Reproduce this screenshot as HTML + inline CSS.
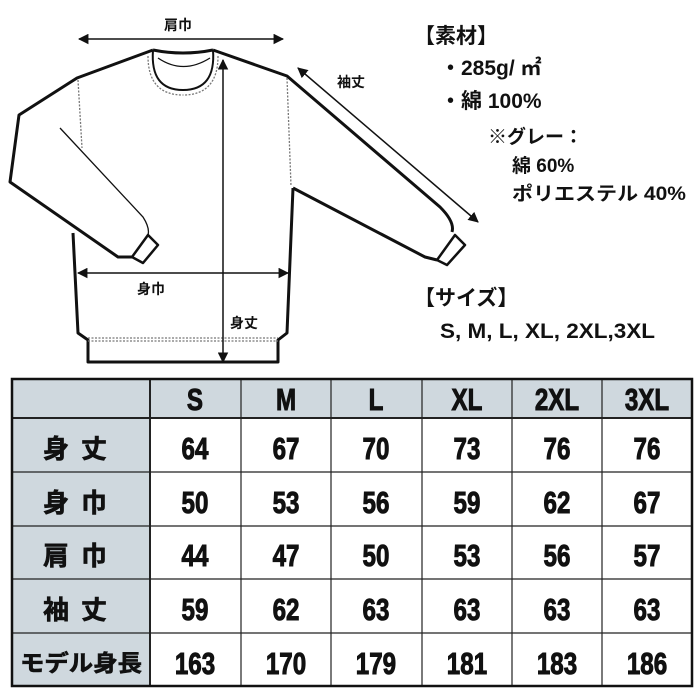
<!DOCTYPE html>
<html><head><meta charset="utf-8"><style>
html,body{margin:0;padding:0;background:#fff;width:700px;height:700px;overflow:hidden}
svg{position:absolute;left:0;top:0}
</style></head><body>
<svg width="700" height="700" viewBox="0 0 700 700" xmlns="http://www.w3.org/2000/svg" font-family="'Liberation Sans','Noto Sans CJK JP',sans-serif">
<defs>
<marker id="a" viewBox="0 0 10 10" refX="9" refY="5" markerWidth="7" markerHeight="7" orient="auto-start-reverse"><path d="M0,0 L10,5 L0,10 z" fill="#111"/></marker>
</defs>
<g fill="none" stroke="#111" stroke-width="3" stroke-linejoin="round">
<path d="M153,50 L77,78 L19,115 L10,182 L118,257 L132,257"/>
<path d="M148,235 L158,245 L143,263 L132,257 Z" stroke-width="2.5"/>
<path d="M213,50 L287,76 L440,207 Q455,222 452,232"/>
<path d="M455,235 L465,245 L447,265 L437,260 Z" stroke-width="2.5"/>
<path d="M293,188 L425,257 L437,260"/>
<path d="M73,233 L78,333 L88,340 L88,362 L278,362 L278,340 L287,333 L293,188"/>
<path d="M153,50 Q183,56 213,50"/>
<path d="M153,50 Q150,90 183,90 Q216,90 213,50" stroke-width="2"/>
</g>
<g fill="none" stroke="#111" stroke-width="1.3">
<path d="M60,128 L143,217 Q150,228 148,235"/>
<path d="M158,58 Q183,75 210,58"/>
<path d="M148,56 Q148,95 183,95" stroke-dasharray="2,1.5" stroke="#777"/>
<path d="M218,56 Q218,95 183,95" stroke-dasharray="2,1.5" stroke="#777"/>
<path d="M78,80 L82,148" stroke="#777" stroke-dasharray="2,1.5"/>
<path d="M287,78 L291,186" stroke="#777" stroke-dasharray="2,1.5"/>
<path d="M88,338 L278,338 M88,341 L278,341" stroke="#777" stroke-dasharray="2,1.5"/>
</g>
<g stroke="#111" stroke-width="1.5" fill="none">
<line x1="79" y1="39" x2="283" y2="39" marker-start="url(#a)" marker-end="url(#a)"/>
<line x1="78" y1="273" x2="288" y2="273" marker-start="url(#a)" marker-end="url(#a)"/>
<line x1="223" y1="60" x2="223" y2="362" marker-start="url(#a)" marker-end="url(#a)"/>
<line x1="298" y1="68" x2="478" y2="222" marker-start="url(#a)" marker-end="url(#a)"/>
</g>
<g font-weight="bold" font-size="14" fill="#111">
<text x="164" y="30">肩巾</text>
<text x="337" y="87">袖丈</text>
<text x="137" y="294">身巾</text>
<text x="230" y="328">身丈</text>
</g>
<g font-weight="bold" font-size="21" fill="#111">
<text x="414" y="43">【素材】</text>
<text x="440" y="75">・285g/ ㎡</text>
<text x="440" y="108">・綿 100%</text>
<text x="488" y="143" font-size="19">※グレー：</text>
<text x="512" y="172" font-size="19">綿 60%</text>
<text x="512" y="200" font-size="19" textLength="174" lengthAdjust="spacingAndGlyphs">ポリエステル 40%</text>
<text x="414" y="305">【サイズ】</text>
<text x="440" y="338" textLength="215" lengthAdjust="spacingAndGlyphs">S, M, L, XL, 2XL,3XL</text>
</g>
<rect x="12" y="379" width="680" height="39" fill="#cfd8de"/>
<rect x="12" y="379" width="138" height="307" fill="#cfd8de"/>
<g stroke="#222" stroke-width="1.2">
<line x1="12" y1="418" x2="692" y2="418" stroke-width="2"/>
<line x1="12" y1="472" x2="692" y2="472"/>
<line x1="12" y1="526" x2="692" y2="526"/>
<line x1="12" y1="579" x2="692" y2="579"/>
<line x1="12" y1="633" x2="692" y2="633"/>
<line x1="150" y1="379" x2="150" y2="686" stroke-width="2"/>
<line x1="241" y1="379" x2="241" y2="686"/>
<line x1="331" y1="379" x2="331" y2="686"/>
<line x1="422" y1="379" x2="422" y2="686"/>
<line x1="512" y1="379" x2="512" y2="686"/>
<line x1="602" y1="379" x2="602" y2="686"/>
</g>
<rect x="12" y="379" width="680" height="307" fill="none" stroke="#111" stroke-width="2.5"/>
<g font-weight="bold" fill="#111" text-anchor="middle" stroke="#111" stroke-width="0.6">
<text x="81" y="458" font-size="26" letter-spacing="12">身丈</text>
<text x="81" y="512" font-size="26" letter-spacing="12">身巾</text>
<text x="81" y="565" font-size="26" letter-spacing="12">肩巾</text>
<text x="81" y="619" font-size="26" letter-spacing="12">袖丈</text>
<text x="81" y="671" font-size="23" textLength="122" lengthAdjust="spacingAndGlyphs">モデル身長</text>
</g>
<g font-weight="bold" font-size="31" fill="#111" text-anchor="middle" transform="scale(0.78,1)" stroke="#111" stroke-width="1">
<text y="410"><tspan x="250">S</tspan><tspan x="366.7">M</tspan><tspan x="482">L</tspan><tspan x="598.7">XL</tspan><tspan x="714.1">2XL</tspan><tspan x="829.5">3XL</tspan></text>
<text y="459"><tspan x="250">64</tspan><tspan x="366.7">67</tspan><tspan x="482">70</tspan><tspan x="598.7">73</tspan><tspan x="714.1">76</tspan><tspan x="829.5">76</tspan></text>
<text y="513"><tspan x="250">50</tspan><tspan x="366.7">53</tspan><tspan x="482">56</tspan><tspan x="598.7">59</tspan><tspan x="714.1">62</tspan><tspan x="829.5">67</tspan></text>
<text y="566"><tspan x="250">44</tspan><tspan x="366.7">47</tspan><tspan x="482">50</tspan><tspan x="598.7">53</tspan><tspan x="714.1">56</tspan><tspan x="829.5">57</tspan></text>
<text y="620"><tspan x="250">59</tspan><tspan x="366.7">62</tspan><tspan x="482">63</tspan><tspan x="598.7">63</tspan><tspan x="714.1">63</tspan><tspan x="829.5">63</tspan></text>
<text y="674"><tspan x="250">163</tspan><tspan x="366.7">170</tspan><tspan x="482">179</tspan><tspan x="598.7">181</tspan><tspan x="714.1">183</tspan><tspan x="829.5">186</tspan></text>
</g>
</svg>
</body></html>
